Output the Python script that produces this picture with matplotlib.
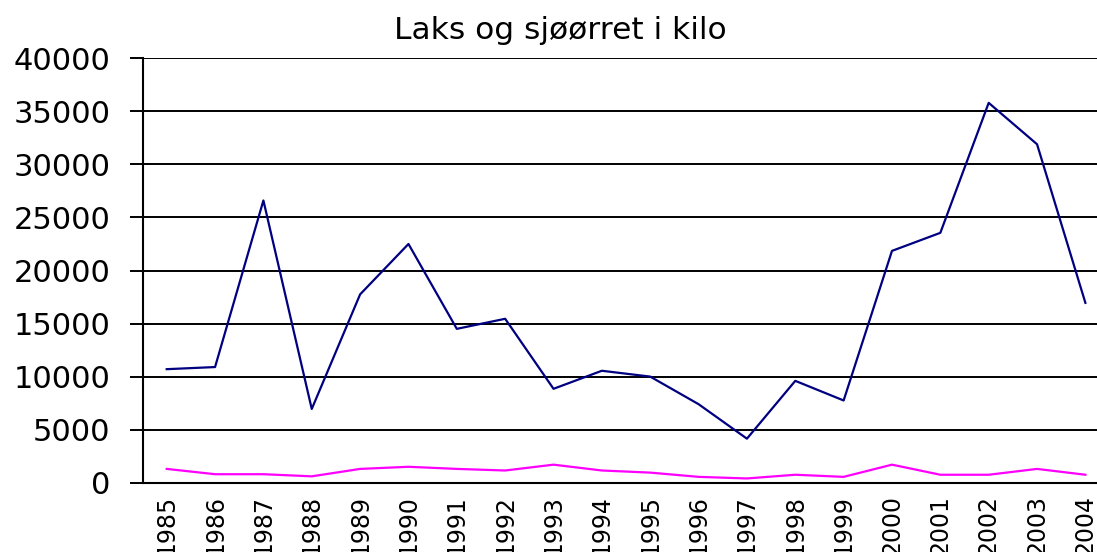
import matplotlib
matplotlib.use("Agg")
import matplotlib.pyplot as plt

plt.rcParams['font.family'] = ['DejaVu Sans']

years = list(range(1985, 2005))
laks = [10700, 10900, 26600, 6950, 17750, 22500, 14500, 15450, 8850, 10550,
        10000, 7400, 4150, 9600, 7750, 21850, 23550, 35800, 31900, 16950]
sjoorret = [1300, 800, 800, 600, 1300, 1500, 1300, 1150, 1700, 1150,
            950, 550, 400, 750, 550, 1700, 750, 750, 1300, 750]
yticks = [0, 5000, 10000, 15000, 20000, 25000, 30000, 35000, 40000]

W, H = 1097, 552
fig = plt.figure(figsize=(W / 100, H / 100), dpi=100)
ax = fig.add_axes([143.3 / W, 1 - 482.7 / H, (W - 143.3) / W, (482.7 - 58.3) / H])

ax.plot(years, laks, color='#000080', lw=1.6)
ax.plot(years, sjoorret, color='#FF00FF', lw=1.6)

ax.set_xlim(1984.516, 2004.24)
ax.set_ylim(0, 40000)
ax.set_yticks(yticks)
ax.set_yticklabels([str(v) for v in yticks])
ax.set_xticks(years)
ax.set_xticklabels([str(y) for y in years], rotation=90, va='top')

ax.grid(axis='y', color='black', lw=1.4)
ax.set_axisbelow(True)
for s in ['top', 'right']:
    ax.spines[s].set_visible(False)
ax.spines['left'].set_linewidth(1.5)
ax.spines['bottom'].set_linewidth(1.5)

ax.tick_params(axis='y', length=9.5, width=1.4, pad=14, labelsize=22)
ax.tick_params(axis='x', length=0, pad=9, labelsize=17)

fig.text(560 / W, 1 - 39.3 / H, 'Laks og sjøørret i kilo', ha='center', va='baseline',
         fontsize=22.5)

fig.savefig('out.png', dpi=100)
